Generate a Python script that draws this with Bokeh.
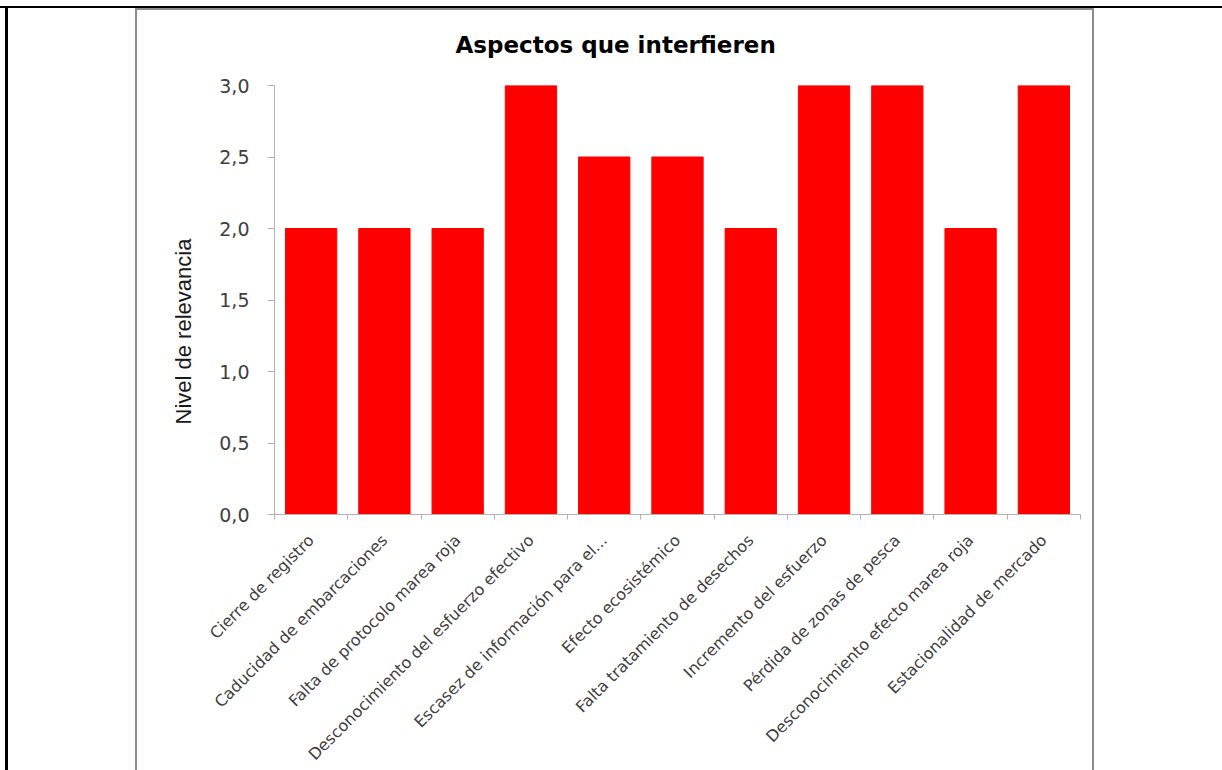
import math
from bokeh.plotting import figure
from bokeh.models import Range1d, LinearAxis, FixedTicker, Div, Title
from bokeh.layouts import row, column
from bokeh.embed import file_html
from bokeh.resources import INLINE

# ---- data ----
categories = [
    "Cierre de registro",
    "Caducidad de embarcaciones",
    "Falta de protocolo marea roja",
    "Desconocimiento del esfuerzo efectivo",
    "Escasez de información para el...",
    "Efecto ecosistémico",
    "Falta tratamiento de desechos",
    "Incremento del esfuerzo",
    "Pérdida de zonas de pesca",
    "Desconocimiento efecto marea roja",
    "Estacionalidad de mercado",
]
values = [2.0, 2.0, 2.0, 3.0, 2.5, 2.5, 2.0, 3.0, 3.0, 2.0, 3.0]
y_ticks = [0.0, 0.5, 1.0, 1.5, 2.0, 2.5, 3.0]
y_tick_labels = ["0,0", "0,5", "1,0", "1,5", "2,0", "2,5", "3,0"]
title_text = "Aspectos que interfieren"
y_label = "Nivel de relevancia"

n = len(categories)
centers = [i + 0.5 for i in range(n)]
bounds = [float(i) for i in range(n + 1)]

FIG_W, FIG_H = 955, 785
TOP_B, BOT_B = 84, 272
LIFT = 9

p = figure(
    width=FIG_W, height=FIG_H,
    x_range=Range1d(0, n), y_range=Range1d(0, 3),
    output_backend="svg", toolbar_location=None,
    x_axis_type=None, y_axis_type=None,
    min_border_left=137, min_border_right=12,
    min_border_top=TOP_B, min_border_bottom=BOT_B,
)
p.margin = 0
p.styles = {"flex-shrink": "0", "min-height": f"{FIG_H}px",
            "margin-top": f"-{LIFT}px"}
p.outline_line_color = None
p.xgrid.visible = False
p.ygrid.visible = False
p.background_fill_color = "white"
p.border_fill_color = None

p.title.text = title_text
p.title.align = "left"
p.title.offset = 181
p.title.text_font = "DejaVu Sans"
p.title.text_font_size = "23px"
p.title.text_font_style = "bold"
p.title.text_color = "#000000"
p.title.standoff = 55

p.vbar(x=centers, top=values, width=0.7, fill_color="#FF0000", line_color="#FF0000")

axis_color = "#b3b3b3"
label_color = "#404040"

yaxis = LinearAxis(
    ticker=FixedTicker(ticks=y_ticks, minor_ticks=[]),
    major_label_overrides=dict(zip(y_ticks, y_tick_labels)),
)
yaxis.axis_line_color = axis_color
yaxis.major_tick_line_color = axis_color
yaxis.major_tick_out = 7
yaxis.major_tick_in = 0
yaxis.minor_tick_line_color = None
yaxis.major_label_text_font = "DejaVu Sans"
yaxis.major_label_text_font_size = "19px"
yaxis.major_label_text_color = label_color
yaxis.major_label_standoff = 18
p.add_layout(yaxis, "left")

y_title = Title(
    text=y_label, align="left", offset=90, standoff=42,
    text_font="Liberation Sans", text_font_size="22px",
    text_font_style="normal", text_color="#1a1a1a",
)
p.add_layout(y_title, "left")

xaxis = LinearAxis(
    ticker=FixedTicker(ticks=centers, minor_ticks=bounds),
    major_label_overrides=dict(zip(centers, categories)),
    major_label_orientation=math.pi / 4,
)
xaxis.axis_line_color = axis_color
xaxis.major_tick_line_color = None
xaxis.major_tick_out = 0
xaxis.major_tick_in = 0
xaxis.minor_tick_line_color = axis_color
xaxis.minor_tick_out = 5
xaxis.minor_tick_in = 0
xaxis.major_label_text_font = "DejaVu Sans"
xaxis.major_label_text_font_size = "16px"
xaxis.major_label_text_color = label_color
xaxis.major_label_standoff = 18
p.add_layout(xaxis, "below")


def block(w, h, color):
    return Div(text="", width=w, height=h, margin=0,
               styles={"background-color": color, "flex-shrink": "0"})


ROW_H = 762
chart_box = column(
    block(FIG_W, 2, "#8c8c8c"),
    p,
    spacing=0,
    styles={"height": f"{ROW_H}px"},
)
body = row(
    block(5, ROW_H, "#ffffff"),
    block(3, ROW_H, "#000000"),
    block(127, ROW_H, "#ffffff"),
    block(2, ROW_H, "#8c8c8c"),
    chart_box,
    block(2, ROW_H, "#8c8c8c"),
    block(128, ROW_H, "#ffffff"),
    spacing=0,
    styles={"height": f"{ROW_H}px"},
)
layout = column(
    block(1222, 6, "#ffffff"),
    block(1222, 2, "#000000"),
    body,
    spacing=0,
    styles={"height": "770px", "overflow": "hidden"},
)

open("out.html", "w").write(file_html(layout, INLINE))
